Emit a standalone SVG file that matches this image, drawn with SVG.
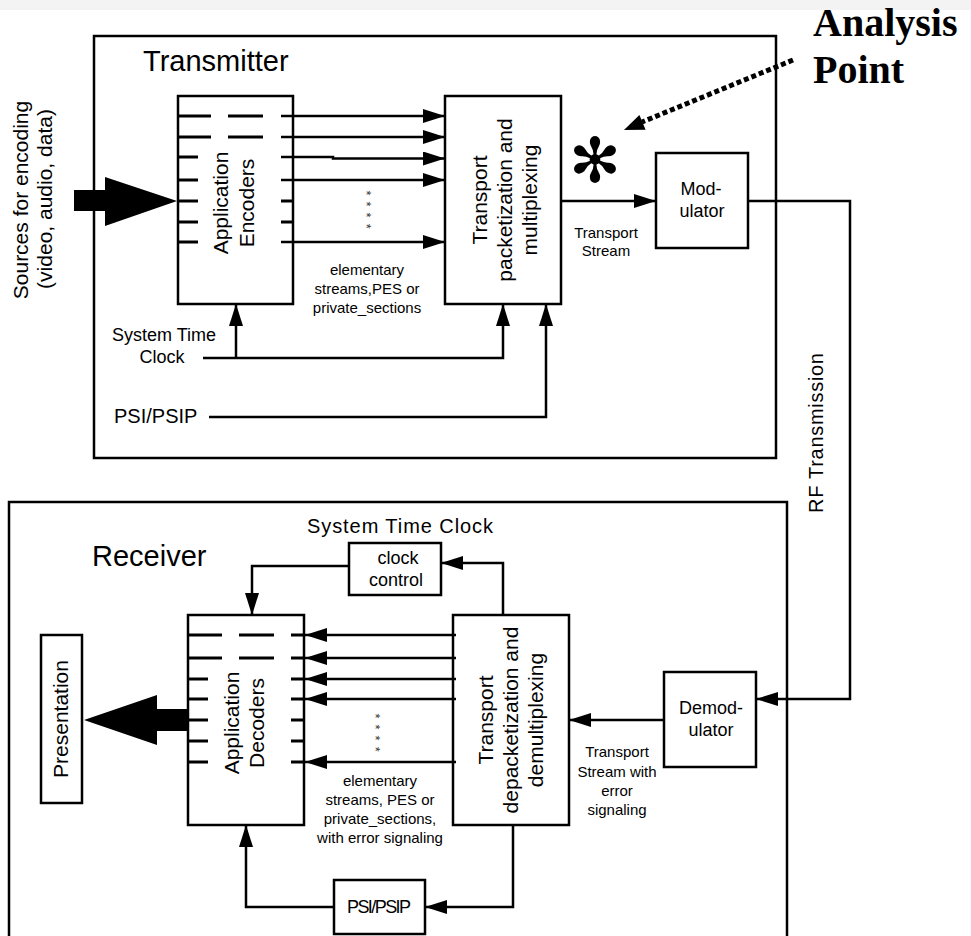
<svg xmlns="http://www.w3.org/2000/svg" width="971" height="936" viewBox="0 0 971 936">
  <defs>
    <marker id="arrow" viewBox="0 0 22 14" refX="22" refY="7" markerWidth="22" markerHeight="14" markerUnits="userSpaceOnUse" orient="auto">
      <path d="M0,0 L22,7 L0,14 z" fill="#000"/>
    </marker>
  </defs>
  <style>
    .box{fill:#fff;stroke:#000;stroke-width:2.5}
    .frame{fill:none;stroke:#000;stroke-width:2.5}
    .wire{fill:none;stroke:#000;stroke-width:2.5}
    .arr{marker-end:url(#arrow)}
    .stub{fill:none;stroke:#000;stroke-width:3}
    text{font-family:"Liberation Sans",Arial,sans-serif;fill:#000}
    .big{font-size:29px}
    .t21{font-size:21px}
    .t20{font-size:20px}
    .t18{font-size:18px}
    .t15{font-size:15px}
    .mid{text-anchor:middle}
    .dot{font-size:13px;fill:#333;letter-spacing:6px}
    .ap{font-family:"Liberation Serif","Times New Roman",serif;font-weight:bold;font-size:40px}
  </style>

  <!-- page -->
  <rect x="0" y="0" width="971" height="936" fill="#fff"/>
  <rect x="0" y="0" width="971" height="10" fill="#f3f3f3"/>

  <!-- transmitter enclosure -->
  <g id="transmitter">
    <rect class="frame" x="94" y="36" width="682" height="422"/>
    <text class="big" x="143" y="71">Transmitter</text>
    <text class="t18 mid" x="164" y="341">System Time</text>
    <text class="t18 mid" x="162" y="363">Clock</text>
    <text class="t20" x="114" y="423">PSI/PSIP</text>
    <text class="t15 mid" x="367" y="275">elementary</text>
    <text class="t15 mid" x="367" y="294">streams,PES or</text>
    <text class="t15 mid" x="367" y="313">private_sections</text>
    <!-- vertical run of asterisks between channels -->
    <text class="dot" transform="rotate(90)" x="190.5" y="-361.5">****</text>
    <text class="t15 mid" x="606" y="238">Transport</text>
    <text class="t15 mid" x="606" y="256">Stream</text>
  </g>

  <!-- receiver enclosure -->
  <g id="receiver">
    <rect class="frame" x="9" y="502" width="778" height="460"/>
    <text class="big" x="92" y="566">Receiver</text>
    <text class="t20" x="307" y="533" textLength="186">System Time Clock</text>
    <text class="t15 mid" x="380" y="786">elementary</text>
    <text class="t15 mid" x="380" y="805">streams, PES or</text>
    <text class="t15 mid" x="380" y="824">private_sections,</text>
    <text class="t15 mid" x="380" y="843">with error signaling</text>
    <text class="dot" transform="rotate(90)" x="713.5" y="-370.5">****</text>
    <text class="t15 mid" x="617" y="757">Transport</text>
    <text class="t15 mid" x="617" y="777">Stream with</text>
    <text class="t15 mid" x="617" y="796">error</text>
    <text class="t15 mid" x="617" y="815">signaling</text>
  </g>

  <!-- source label -->
  <g id="sources">
    <text class="t21 mid" transform="rotate(-90)" x="-200" y="28">Sources for encoding</text>
    <text class="t21 mid" transform="rotate(-90)" x="-199" y="52">(video, audio, data)</text>
  </g>

  <g id="encoders">
    <rect class="box" x="178" y="96" width="115" height="208"/>
    <text class="t21 mid" transform="rotate(-90)" x="-203" y="228">Application</text>
    <text class="t21 mid" transform="rotate(-90)" x="-203" y="254">Encoders</text>
  </g>

  <g id="mux">
    <rect class="box" x="445" y="96" width="116" height="208"/>
    <text class="t21 mid" transform="rotate(-90)" x="-200" y="487">Transport</text>
    <text class="t21 mid" transform="rotate(-90)" x="-200" y="512">packetization and</text>
    <text class="t21 mid" transform="rotate(-90)" x="-200" y="537">multiplexing</text>
  </g>

  <g id="modulator">
    <rect class="box" x="656" y="153" width="92" height="95"/>
    <text class="t18 mid" x="701" y="195">Mod-</text>
    <text class="t18 mid" x="702" y="217">ulator</text>
  </g>

  <g id="analysis-point">
    <text class="ap" x="813" y="36">Analysis</text>
    <text class="ap" x="813" y="83">Point</text>
    <text x="595" y="182" font-family="DejaVu Sans" font-size="62" text-anchor="middle">✻</text>
  </g>

  <g id="rf-label">
    <text class="t20 mid" transform="rotate(-90)" x="-433" y="823" textLength="160">RF Transmission</text>
  </g>

  <g id="demodulator">
    <rect class="box" x="664" y="672" width="92" height="95"/>
    <text class="t18 mid" x="711" y="714">Demod-</text>
    <text class="t18 mid" x="711" y="736">ulator</text>
  </g>

  <g id="demux">
    <rect class="box" x="453" y="615" width="116" height="210"/>
    <text class="t21 mid" transform="rotate(-90)" x="-720" y="493">Transport</text>
    <text class="t21 mid" transform="rotate(-90)" x="-720" y="518">depacketization and</text>
    <text class="t21 mid" transform="rotate(-90)" x="-720" y="543">demultiplexing</text>
  </g>

  <g id="decoders">
    <rect class="box" x="188" y="615" width="116" height="210"/>
    <text class="t21 mid" transform="rotate(-90)" x="-723" y="239">Application</text>
    <text class="t21 mid" transform="rotate(-90)" x="-723" y="264">Decoders</text>
  </g>

  <g id="clock-control">
    <rect class="box" x="349" y="543" width="92" height="52"/>
    <text class="t18 mid" x="398" y="564">clock</text>
    <text class="t18 mid" x="396" y="586">control</text>
  </g>

  <g id="psi-psip">
    <rect class="box" x="334" y="880" width="91" height="54"/>
    <text class="t18 mid" x="379" y="913" textLength="64">PSI/PSIP</text>
  </g>

  <g id="presentation">
    <rect class="box" x="41" y="635" width="41" height="168"/>
    <text class="t21 mid" transform="rotate(-90)" x="-719" y="68">Presentation</text>
  </g>

  <g id="connectors">
    <!-- sources into encoders -->
    <polygon points="74,190 105,190 105,177 177,201 105,226 105,211 74,211" fill="#000"/>

    <!-- encoder channel stubs -->
    <path class="stub" d="M178,116H211M228,116H263M178,137H211M228,137H263
                          M178,157H198M178,180H198M178,201H198M178,222H198M178,242H198
                          M281,201H293M281,222H293"/>
    <!-- elementary streams into the multiplexer -->
    <line class="wire arr" x1="281" y1="116" x2="445" y2="116"/>
    <line class="wire arr" x1="281" y1="137" x2="445" y2="137" stroke-width="3.5"/>
    <polyline class="wire arr" points="281,157 333,157 333,158.5 445,158.5"/>
    <line class="wire arr" x1="281" y1="180" x2="445" y2="180"/>
    <line class="wire arr" x1="281" y1="242" x2="445" y2="242"/>

    <!-- system time clock and PSI/PSIP -->
    <polyline class="wire arr" points="203,358 503,358 503,304" stroke-width="3.5"/>
    <line class="wire arr" x1="236" y1="358" x2="236" y2="304"/>
    <polyline class="wire arr" points="209,417 546,417 546,304"/>

    <!-- transport stream to modulator -->
    <line class="wire arr" x1="561" y1="201" x2="656" y2="201"/>

    <!-- RF link -->
    <polyline class="wire arr" points="748,201 850,201 850,699 756,699"/>

    <!-- demodulator to demultiplexer -->
    <line class="wire arr" x1="664" y1="720" x2="569" y2="720"/>

    <!-- decoder channel stubs -->
    <path class="stub" d="M188,635H222M239,635H274M188,658H222M239,658H274
                          M188,679H208M188,699H208M188,720H208M188,741H208M188,762H208
                          M291,635H304M291,658H304M291,679H304M291,699H304M291,720H304M291,741H304M291,762H304"/>
    <!-- elementary streams into the decoders -->
    <line class="wire arr" x1="456" y1="635" x2="305" y2="635"/>
    <line class="wire arr" x1="456" y1="658" x2="305" y2="658"/>
    <line class="wire arr" x1="456" y1="679" x2="305" y2="679"/>
    <line class="wire arr" x1="456" y1="699" x2="305" y2="699"/>
    <line class="wire arr" x1="456" y1="762" x2="305" y2="762"/>

    <!-- clock recovery loop -->
    <polyline class="wire arr" points="503,615 503,563 441,563"/>
    <polyline class="wire arr" points="349,566 252,566 252,615"/>

    <!-- PSI/PSIP loop -->
    <polyline class="wire arr" points="513,825 513,907 425,907"/>
    <polyline class="wire arr" points="334,907 246,907 246,825"/>

    <!-- decoders to presentation -->
    <polygon points="188,709 157,709 157,695 84,720 157,745 157,731 188,731" fill="#000"/>

    <!-- analysis point pointer -->
    <line x1="793" y1="60" x2="642" y2="122" stroke="#000" stroke-width="5" stroke-dasharray="5 3"/>
    <polygon points="624,130 639.4,114.9 645.6,129.7" fill="#000"/>
  </g>
</svg>
